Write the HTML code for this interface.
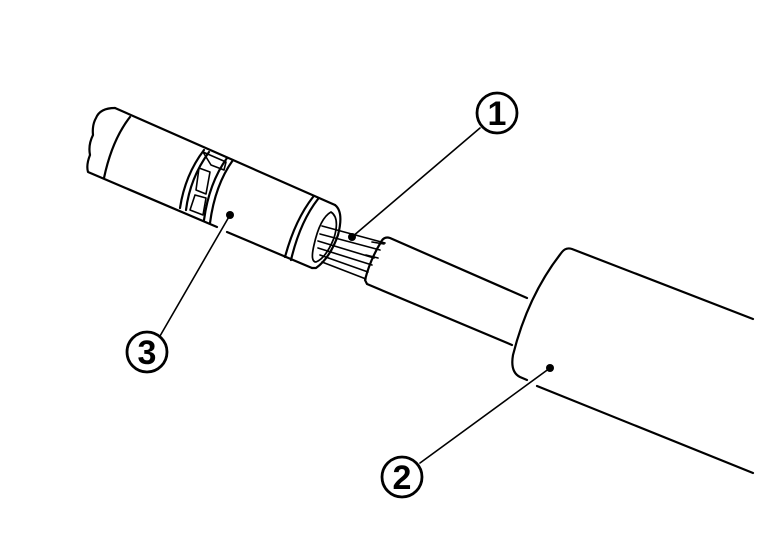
<!DOCTYPE html>
<html><head><style>html,body{margin:0;padding:0;background:#fff}svg{display:block}</style></head>
<body>
<svg width="768" height="544" viewBox="0 0 768 544" xmlns="http://www.w3.org/2000/svg" fill="none" stroke="#000" stroke-width="2.2" stroke-linejoin="round" stroke-linecap="round">
<!-- big jacket -->
<path d="M753,319 L572,249 Q566,247 562,252 Q528,295 513,355 Q510,372 520,377 L527,380"/>
<path d="M537,386 L753,473"/>
<!-- wire insulation -->
<path d="M527,298 L390,238 Q384,236 381,242 Q370,260 365,280 L367,284 L512,345"/>
<!-- strands -->
<g stroke-width="1.6">
<path d="M322,226 L385,243"/><path d="M320,234 L380,250"/><path d="M318,241 L374,258"/>
<path d="M318,248 L372,265"/><path d="M320,255 L368,272"/><path d="M322,262 L366,279"/>
<path d="M372,242 L384,244 M366,255 L378,258"/>
</g>
<!-- terminal body -->
<path d="M115,108 L335,205"/>
<path d="M115,108 Q100,108 96,118 Q92,125 93,135 Q88,145 90,155 Q86,165 88,172 L217,227"/>
<path d="M227,232 L312,268"/>
<path d="M335,205 Q344,212 338,235 Q330,258 316,268 L312,268"/>
<path d="M331,212 Q340,218 334,238 Q326,258 316,262 Q310,262 314,245 Q320,218 331,212 Z" stroke-width="1.7"/>
<path d="M130,117 Q112,140 104,178"/>
<path d="M204,150 Q185,175 180,208"/>
<path d="M209,152 Q190,178 186,210"/>
<path d="M233,160 Q215,185 210,223"/>
<path d="M227,158 Q209,183 204,220"/>
<path d="M203,152 L226,162 L224,170 L211,165 Z" stroke-width="1.6"/>
<path d="M199,168 L210,172 L206,194 L196,190 Z" stroke-width="1.6"/>
<path d="M195,195 L206,198 L203,215 L190,210 Z" stroke-width="1.6"/>
<path d="M313,197 Q295,220 285,257"/>
<path d="M318,199 Q300,222 291,260"/>
<!-- leaders -->
<path d="M352,237 L480,128" stroke-width="1.6"/>
<path d="M230,215 L160,336" stroke-width="1.6"/>
<path d="M550,368 L420,463" stroke-width="1.6"/>
<g fill="#000" stroke="none">
<circle cx="352" cy="237" r="4"/><circle cx="230" cy="215" r="4"/><circle cx="550" cy="368" r="4"/>
</g>
<circle cx="497" cy="113" r="20" stroke-width="2.8"/>
<circle cx="147" cy="352" r="20" stroke-width="2.8"/>
<circle cx="402" cy="477" r="20" stroke-width="2.8"/>
<g fill="#000" stroke="none" font-family="Liberation Sans Narrow, Liberation Sans, sans-serif" font-weight="bold" font-size="34" text-anchor="middle">
<text x="497" y="125">1</text><text x="147" y="364">3</text><text x="402" y="489">2</text>
</g>
</svg>
</body></html>
